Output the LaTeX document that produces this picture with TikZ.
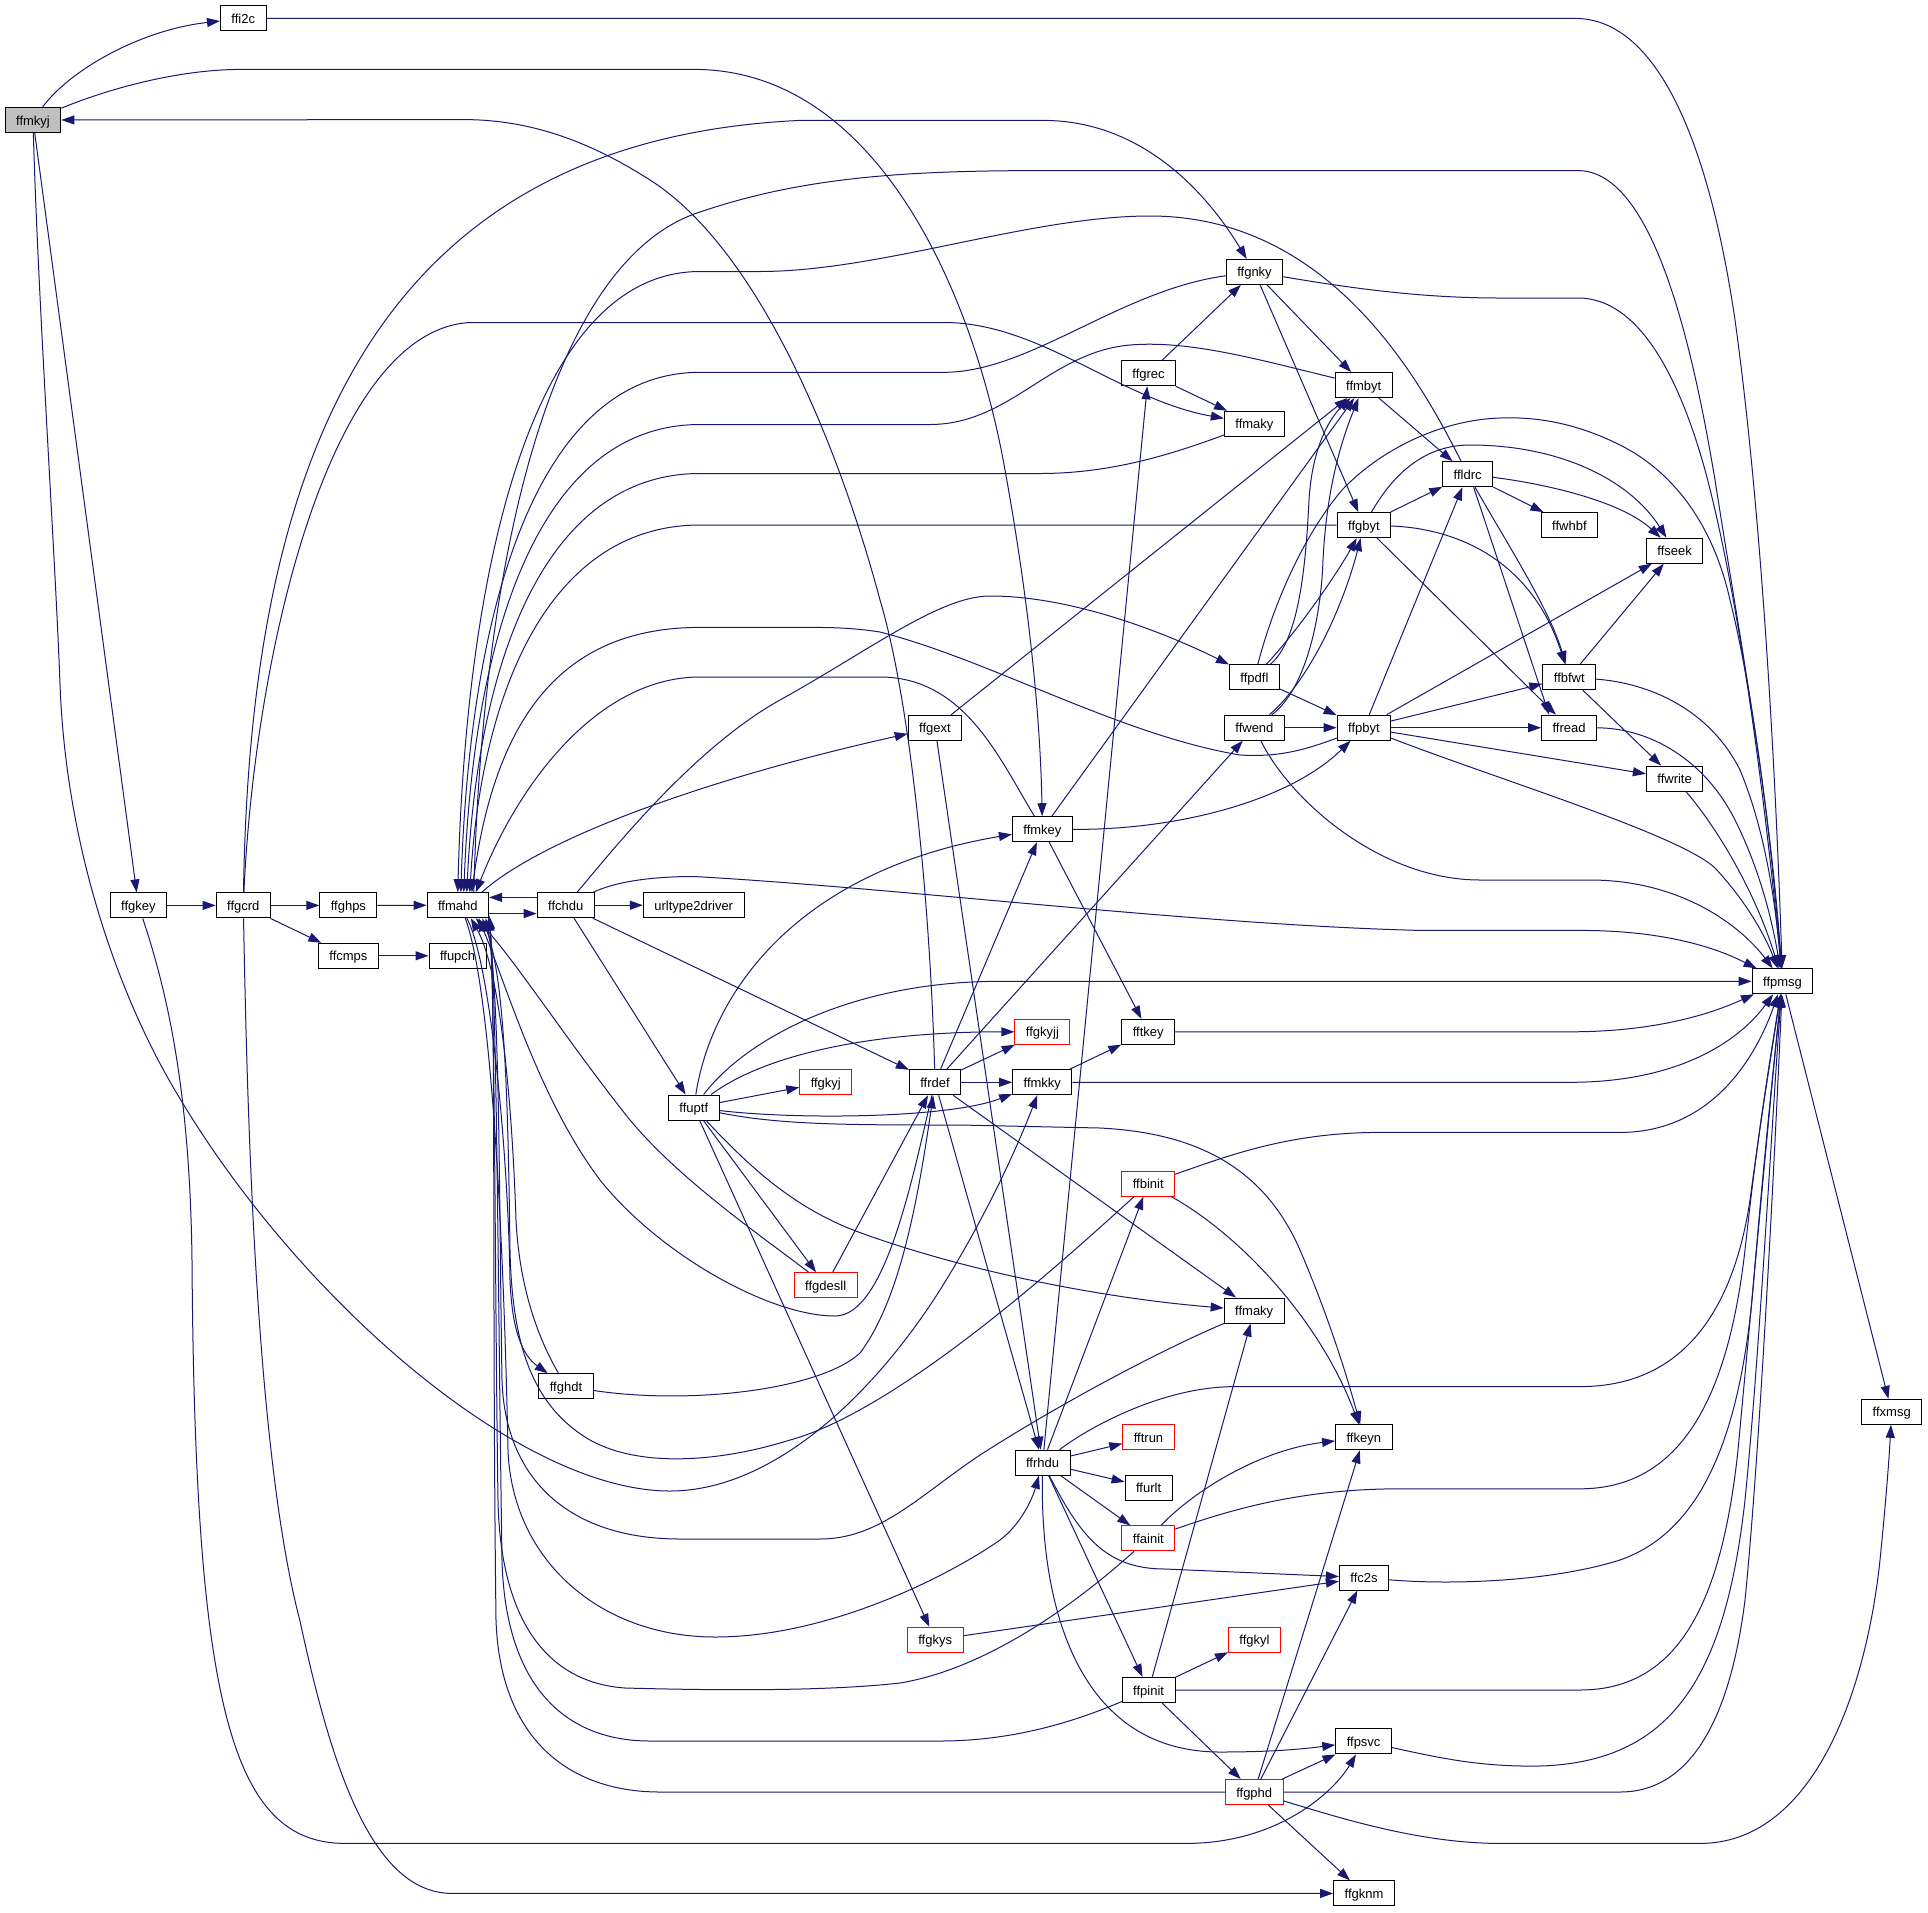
\documentclass[tikz,border=0pt]{standalone}
\usepackage{fontspec}
\setmainfont{Liberation Sans}
\usetikzlibrary{arrows.meta}
\definecolor{edgeblue}{RGB}{25,25,112}
\definecolor{nodegray}{RGB}{191,191,191}
\tikzset{
  nbox/.style={draw=black, line width=1pt, fill=white, minimum height=25pt, inner xsep=11pt, inner ysep=0pt, text height=10pt, text depth=0pt, font=\fontsize{13}{15}\selectfont},
  rbox/.style={nbox, draw=red},
  gbox/.style={nbox, fill=nodegray},
  edg/.style={draw=edgeblue, line width=1pt, -{Triangle[length=13pt,width=9pt]}}
}
\begin{document}
\begin{tikzpicture}[x=1pt,y=-1pt]
\useasboundingbox (0,0) rectangle (1928,1912);
\fill[white] (0,0) rectangle (1928,1912);
% nodes
\node[gbox] (ffmkyj) at (33,120) {ffmkyj};
\node[nbox] (ffi2c) at (243.3,18.4) {ffi2c};
\node[nbox] (ffgkey) at (138.4,905.4) {ffgkey};
\node[nbox] (ffgcrd) at (243.3,905.4) {ffgcrd};
\node[nbox] (ffghps) at (348.4,905.4) {ffghps};
\node[nbox] (ffcmps) at (348.4,955.8) {ffcmps};
\node[nbox] (ffmahd) at (457.8,905.2) {ffmahd};
\node[nbox] (ffupch) at (457.6,955.8) {ffupch};
\node[nbox] (ffchdu) at (565.8,905.2) {ffchdu};
\node[nbox] (ffghdt) at (566,1386.3) {ffghdt};
\node[nbox] (urltype2driver) at (693.7,905.2) {urltype2driver};
\node[nbox] (ffuptf) at (693.8,1107.5) {ffuptf};
\node[rbox] (ffgkyj) at (825.8,1082.3) {ffgkyj};
\node[rbox] (ffgdesll) at (825.7,1285.3) {ffgdesll};
\node[nbox] (ffgext) at (935,727.7) {ffgext};
\node[nbox] (ffrdef) at (935,1082.3) {ffrdef};
\node[rbox] (ffgkys) at (935.2,1639.8) {ffgkys};
\node[nbox] (ffmkey) at (1042.4,829.2) {ffmkey};
\node[rbox] (ffgkyjj) at (1042.4,1031.8) {ffgkyjj};
\node[nbox] (ffmkky) at (1042.3,1082.3) {ffmkky};
\node[nbox] (ffrhdu) at (1042.6,1462.7) {ffrhdu};
\node[nbox] (ffgrec) at (1148.5,373.3) {ffgrec};
\node[nbox] (fftkey) at (1148.2,1031.8) {fftkey};
\node[rbox] (ffbinit) at (1148.2,1183.7) {ffbinit};
\node[rbox] (fftrun) at (1148.5,1437.4) {fftrun};
\node[nbox] (ffurlt) at (1148.6,1487.5) {ffurlt};
\node[rbox] (ffainit) at (1148.4,1538.4) {ffainit};
\node[nbox] (ffpinit) at (1148.6,1690) {ffpinit};
\node[nbox] (ffgnky) at (1254.5,271.9) {ffgnky};
\node[nbox] (ffmakyA) at (1254.4,423.7) {ffmaky};
\node[nbox] (ffpdfl) at (1254.4,677.2) {ffpdfl};
\node[nbox] (ffwend) at (1254.4,727.7) {ffwend};
\node[nbox] (ffmakyB) at (1254.2,1310.5) {ffmaky};
\node[rbox] (ffgkyl) at (1254.5,1639.7) {ffgkyl};
\node[rbox] (ffgphd) at (1254.2,1792) {ffgphd};
\node[nbox] (ffmbyt) at (1363.7,385.1) {ffmbyt};
\node[nbox] (ffgbyt) at (1363.9,525.1) {ffgbyt};
\node[nbox] (ffpbyt) at (1363.9,727.7) {ffpbyt};
\node[nbox] (ffkeyn) at (1363.8,1437.4) {ffkeyn};
\node[nbox] (ffc2s) at (1364,1577.6) {ffc2s};
\node[nbox] (ffpsvc) at (1363.6,1741.4) {ffpsvc};
\node[nbox] (ffgknm) at (1364,1893.4) {ffgknm};
\node[nbox] (ffldrc) at (1467.7,474.3) {ffldrc};
\node[nbox] (ffwhbf) at (1569.4,525.1) {ffwhbf};
\node[nbox] (ffbfwt) at (1569.3,677.2) {ffbfwt};
\node[nbox] (ffread) at (1569.1,727.7) {ffread};
\node[nbox] (ffseek) at (1674.6,550.7) {ffseek};
\node[nbox] (ffwrite) at (1674.6,778.5) {ffwrite};
\node[nbox] (ffpmsg) at (1782.5,981.3) {ffpmsg};
\node[nbox] (ffxmsg) at (1891.7,1411.8) {ffxmsg};

% ---- edges: top area
\draw[edg] (ffmkyj) .. controls (70,70) and (140,30) .. (ffi2c);
\draw[edg] (ffi2c) -- (1575,18.4) .. controls (1660,18.4) and (1710,150) .. (1735,320) .. controls (1760,500) and (1775,750) .. (ffpmsg);
\draw[edg] (ffmkyj) .. controls (110,88) and (180,69.4) .. (241,69.4) -- (694,69.4) .. controls (880,69.4) and (975,300) .. (1005,470) .. controls (1025,580) and (1040,700) .. (ffmkey);
\draw[edg] (ffrdef) .. controls (930,900) and (910,700) .. (880,600) .. controls (840,450) and (760,250) .. (650,180) .. controls (580,135) and (520,119.6) .. (464,119.6) -- (ffmkyj);
\draw[edg] (ffgcrd) .. controls (250,450) and (380,140) .. (800,120.4) -- (1043,120.4) .. controls (1140,120.4) and (1205,190) .. (ffgnky);
\draw[edg] (ffgcrd) .. controls (255,650) and (330,330) .. (470,322.5) -- (944,322.5) .. controls (1040,322.5) and (1120,400) .. (ffmakyA);
\draw[edg] (ffmkyj) -- (ffgkey);
\draw[edg] (ffgkey) -- (ffgcrd);
\draw[edg] (ffgcrd) -- (ffghps);
\draw[edg] (ffgcrd) -- (ffcmps);
\draw[edg] (ffghps) -- (ffmahd);
\draw[edg] (ffcmps) -- (ffupch);
\draw[edg] (ffmahd.-15) -- (ffmahd.-15 -| ffchdu.west);
\draw[edg] (ffchdu.165) -- (ffchdu.165 -| ffmahd.east);
\draw[edg] (ffchdu) -- (urltype2driver);
\draw[edg] (ffgkey) .. controls (170,1000) and (190,1100) .. (192,1260) .. controls (195,1700) and (230,1843.4) .. (345,1843.4) -- (1186,1843.4) .. controls (1280,1843.4) and (1335,1790) .. (ffpsvc);
\draw[edg] (ffgcrd) .. controls (247,1100) and (255,1450) .. (300,1621) .. controls (330,1760) and (370,1893.4) .. (452,1893.4) -- (ffgknm);
\draw[edg] (ffmkyj) .. controls (38,300) and (55,550) .. (60,684) .. controls (66,850) and (120,1000) .. (179,1097) .. controls (300,1300) and (520,1491) .. (670,1491) .. controls (770,1491) and (870,1400) .. (940,1290) .. controls (990,1210) and (1020,1140) .. (ffmkky);

% ---- into ffmahd top
\draw[edg] (ffgnky) .. controls (1120,290) and (1030,372.3) .. (944,372.3) -- (700,372.3) .. controls (540,372.3) and (470,600) .. ([xshift=3pt]ffmahd.north);
\draw[edg] (ffmbyt) .. controls (1260,360) and (1190,340) .. (1130,345) .. controls (1050,352) and (1010,424.5) .. (930,424.5) -- (700,424.5) .. controls (545,424.5) and (474,620) .. ([xshift=6pt]ffmahd.north);
\draw[edg] (ffmakyA) .. controls (1170,455) and (1110,473.5) .. (1040,473.5) -- (700,473.5) .. controls (550,473.5) and (478,650) .. ([xshift=9pt]ffmahd.north);
\draw[edg] (ffgbyt) -- (700,525) .. controls (555,525) and (482,680) .. ([xshift=12pt]ffmahd.north);
\draw[edg] (ffldrc) .. controls (1420,380) and (1330,216) .. (1150,216) .. controls (1030,216) and (880,271.5) .. (760,271.5) -- (700,271.5) .. controls (535,271.5) and (466,560) .. (ffmahd.north);
\draw[edg] ([xshift=16pt]ffmahd.north) .. controls (482,560) and (550,260) .. (700,212) .. controls (800,178) and (900,170.6) .. (1040,170.6) -- (1578,170.6) .. controls (1650,170.6) and (1690,330) .. (1715,480) .. controls (1740,640) and (1770,800) .. (ffpmsg);
\draw[edg] (ffpbyt) .. controls (1300,752) and (1275,757) .. (1240,755) .. controls (1120,735) and (990,660) .. (880,632) .. controls (850,627.4) and (830,627.4) .. (800,627.4) -- (700,627.4) .. controls (560,627.4) and (495,720) .. ([xshift=14pt]ffmahd.north);
\draw[edg] (ffmkey) .. controls (1000,760) and (965,677) .. (880,677) -- (700,677) .. controls (600,677) and (520,780) .. ([xshift=18pt]ffmahd.north);
\draw[edg] ([xshift=24pt]ffmahd.north) .. controls (540,840) and (700,780) .. (ffgext);

% ---- right upper area
\draw[edg] (ffgnky) .. controls (1350,288) and (1420,298) .. (1500,298) -- (1578,298) .. controls (1640,298) and (1680,380) .. (1705,470) .. controls (1740,600) and (1765,800) .. (ffpmsg);
\draw[edg] (ffgnky) -- (ffmbyt);
\draw[edg] (ffgnky) -- (ffgbyt);
\draw[edg] (ffgrec) -- (ffgnky);
\draw[edg] (ffgrec) -- (ffmakyA);
\draw[edg] (ffmbyt) -- (ffldrc);
\draw[edg] (ffgbyt) -- (ffldrc);
\draw[edg] (ffldrc) -- (ffwhbf);
\draw[edg] (ffldrc) .. controls (1540,483) and (1620,500) .. (ffseek);
\draw[edg] (ffgbyt) .. controls (1390,480) and (1420,445) .. (1470,445) .. controls (1560,445) and (1630,480) .. (ffseek);
\draw[edg] (ffldrc) .. controls (1505,540) and (1550,610) .. (ffbfwt);
\draw[edg] ([xshift=6pt]ffldrc.south) -- ([xshift=-20pt]ffread.north);
\draw[edg] (ffgbyt) -- (ffread);
\draw[edg] (ffgbyt) .. controls (1450,528) and (1530,555) .. (ffbfwt);
\draw[edg] (ffpdfl) .. controls (1272,610) and (1300,540) .. (1342,490) .. controls (1380,450) and (1440,420) .. (1500,418) .. controls (1550,416) and (1590,430) .. (1620,445) .. controls (1670,470) and (1712,520) .. (1730,600) .. controls (1755,700) and (1772,850) .. (ffpmsg);
\draw[edg] (ffpdfl) .. controls (1300,640) and (1306,560) .. (1309,500) .. controls (1312,450) and (1328,420) .. (ffmbyt);
\draw[edg] (ffpdfl) .. controls (1300,628) and (1338,572) .. (ffgbyt);
\draw[edg] (ffwend) .. controls (1305,690) and (1321,620) .. (1323,560) .. controls (1327,480) and (1345,432) .. (ffmbyt);
\draw[edg] (ffwend) .. controls (1312,678) and (1345,600) .. (ffgbyt);
\draw[edg] (ffpdfl) -- (ffpbyt);
\draw[edg] (ffwend) -- (ffpbyt);
\draw[edg] (ffwend) .. controls (1290,800) and (1380,880) .. (1480,880) -- (1590,880) .. controls (1680,880) and (1740,925) .. (ffpmsg);
\draw[edg] (ffpbyt) -- (ffldrc);
\draw[edg] (ffpbyt) -- (ffseek);
\draw[edg] (ffpbyt) -- (ffbfwt);
\draw[edg] (ffpbyt) -- (ffread);
\draw[edg] (ffpbyt) -- (ffwrite);
\draw[edg] (ffpbyt) .. controls (1500,780) and (1680,835) .. (1715,868) .. controls (1745,900) and (1765,935) .. (ffpmsg);
\draw[edg] (ffbfwt) -- (ffseek);
\draw[edg] (ffbfwt) -- (ffwrite);
\draw[edg] (ffbfwt) .. controls (1650,683) and (1710,710) .. (1740,770) .. controls (1765,830) and (1775,900) .. (ffpmsg);
\draw[edg] (ffread) .. controls (1650,728) and (1705,760) .. (1735,820) .. controls (1760,870) and (1772,920) .. (ffpmsg);
\draw[edg] (ffwrite) .. controls (1715,825) and (1755,890) .. (ffpmsg);
\draw[edg] (ffgext) -- (ffmbyt);
\draw[edg] (ffmkey) -- (ffmbyt);
\draw[edg] (ffmkey) .. controls (1180,830) and (1290,800) .. (ffpbyt);
\draw[edg] (ffmkey) -- (fftkey);

% ---- ffchdu
\draw[edg] (ffchdu) .. controls (605,860) and (690,750) .. (780,700) .. controls (870,650) and (940,596) .. (990,596) .. controls (1080,596) and (1180,640) .. (ffpdfl);
\draw[edg] (ffchdu) .. controls (615,882) and (650,876.5) .. (694,876.5) .. controls (900,888) and (1200,925) .. (1420,930.4) -- (1580,930.4) .. controls (1680,930.4) and (1730,955) .. (ffpmsg);
\draw[edg] (ffchdu) -- (ffrdef);
\draw[edg] (ffchdu) -- (ffuptf);

% ---- ffmahd bottom bundle
\draw[edg] ([xshift=9pt]ffmahd.south) .. controls (490,960) and (508,1150) .. (510,1280) .. controls (512,1330) and (522,1355) .. (ffghdt);
\draw[edg] (ffghdt) .. controls (545,1350) and (520,1300) .. (516,1220) .. controls (512,1100) and (500,970) .. (ffmahd.-45);
\draw[edg] (ffgdesll) .. controls (760,1235) and (680,1180) .. (630,1120) .. controls (570,1045) and (515,960) .. (ffmahd.-36);
\draw[edg] (ffrdef) .. controls (912,1180) and (885,1316) .. (835,1316) .. controls (770,1316) and (660,1255) .. (600,1180) .. controls (540,1100) and (508,990) .. (ffmahd.-32);
\draw[edg] (ffbinit) .. controls (1070,1255) and (900,1410) .. (790,1440) .. controls (720,1462) and (640,1468) .. (590,1440) .. controls (530,1405) and (512,1340) .. (510,1250) .. controls (508,1100) and (505,980) .. (ffmahd.-28);
\draw[edg] (ffmakyB) .. controls (1150,1355) and (1050,1410) .. (980,1455) .. controls (920,1495) and (880,1539) .. (820,1539) -- (680,1539) .. controls (570,1539) and (505,1480) .. (502,1380) .. controls (499,1200) and (500,990) .. (ffmahd.-25);
\draw[edg] (ffmahd.-60) .. controls (495,1000) and (505,1300) .. (508,1450) .. controls (512,1560) and (600,1637) .. (715,1637) .. controls (830,1637) and (950,1575) .. (1000,1540) .. controls (1020,1525) and (1032,1500) .. (ffrhdu);
\draw[edg] (ffainit) .. controls (1080,1600) and (990,1668) .. (900,1683) .. controls (820,1692) and (700,1690) .. (625,1688) .. controls (540,1682) and (500,1610) .. (498,1500) .. controls (495,1300) and (495,1000) .. (ffmahd.-22);
\draw[edg] (ffpinit) .. controls (1060,1728) and (1000,1741) .. (940,1741) -- (650,1741) .. controls (560,1741) and (505,1680) .. (502,1560) .. controls (498,1300) and (497,1000) .. (ffmahd.-20);
\draw[edg] (ffgphd) -- (660,1792) .. controls (570,1792) and (500,1740) .. (496,1620) .. controls (492,1300) and (496,1000) .. (ffmahd.-18);

% ---- ffuptf
\draw[edg] (ffuptf) .. controls (712,990) and (800,870) .. (ffmkey);
\draw[edg] (ffuptf) .. controls (745,1040) and (850,981.3) .. (1000,981.3) -- (ffpmsg);
\draw[edg] (ffuptf) .. controls (760,1058) and (860,1031.8) .. (ffgkyjj);
\draw[edg] (ffuptf) -- (ffgkyj);
\draw[edg] (ffuptf) .. controls (800,1120) and (950,1118) .. (ffmkky);
\draw[edg] (ffuptf) .. controls (780,1125) and (850,1125) .. (960,1125) -- (1100,1128) .. controls (1200,1133) and (1265,1170) .. (1300,1250) .. controls (1330,1320) and (1348,1380) .. (ffkeyn);
\draw[edg] (ffuptf) .. controls (748,1165) and (790,1205) .. (853,1230) .. controls (960,1270) and (1100,1298) .. (ffmakyB);
\draw[edg] (ffuptf) -- (ffgdesll);
\draw[edg] (ffuptf) -- (ffgkys);

% ---- ffrdef
\draw[edg] (ffrdef) -- (ffgkyjj);
\draw[edg] (ffrdef) -- (ffmkky);
\draw[edg] (ffrdef) -- (ffmkey);
\draw[edg] (ffrdef) -- (ffwend);
\draw[edg] (ffrdef) -- (ffmakyB);
\draw[edg] (ffrdef) -- (ffrhdu);
\draw[edg] (ffgdesll) -- (ffrdef);
\draw[edg] (ffghdt) .. controls (690,1405) and (820,1390) .. (860,1353) .. controls (900,1300) and (918,1200) .. (ffrdef);
\draw[edg] (ffgext) -- (ffrhdu);

% ---- middle right
\draw[edg] (ffmkky) -- (fftkey);
\draw[edg] (fftkey) -- (1570,1031.8) .. controls (1660,1031.8) and (1715,1012) .. (ffpmsg);
\draw[edg] (ffmkky) -- (1570,1082.3) .. controls (1680,1082.3) and (1740,1040) .. (ffpmsg);
\draw[edg] (ffbinit) .. controls (1230,1155) and (1290,1132.4) .. (1380,1132.4) -- (1620,1132.4) .. controls (1710,1132.4) and (1755,1060) .. (ffpmsg);
\draw[edg] (ffbinit) .. controls (1240,1235) and (1320,1320) .. (ffkeyn);

% ---- ffrhdu
\draw[edg] (ffrhdu) -- (ffgrec);
\draw[edg] (ffrhdu) -- (ffbinit);
\draw[edg] (ffrhdu) -- (fftrun);
\draw[edg] (ffrhdu) -- (ffurlt);
\draw[edg] (ffrhdu) -- (ffainit);
\draw[edg] (ffrhdu) -- (ffpinit);
\draw[edg] (ffrhdu) .. controls (1080,1535) and (1105,1569) .. (1165,1569) -- (ffc2s);
\draw[edg] (ffrhdu) .. controls (1040,1620) and (1085,1752) .. (1220,1752) .. controls (1280,1752) and (1310,1748) .. (ffpsvc);
\draw[edg] (ffrhdu) .. controls (1085,1430) and (1160,1386.6) .. (1235,1386.6) -- (1580,1386.6) .. controls (1690,1386.6) and (1735,1300) .. (1750,1200) .. controls (1762,1110) and (1772,1050) .. (ffpmsg);

% ---- ffainit, ffpinit, ffgphd
\draw[edg] (ffainit) .. controls (1195,1490) and (1260,1450) .. (ffkeyn);
\draw[edg] (ffainit) .. controls (1230,1510) and (1300,1488.8) .. (1400,1488.8) -- (1580,1488.8) .. controls (1690,1488.8) and (1730,1380) .. (1745,1250) .. controls (1758,1130) and (1770,1060) .. (ffpmsg);
\draw[edg] (ffpinit) -- (ffmakyB);
\draw[edg] (ffpinit) -- (ffgkyl);
\draw[edg] (ffpinit) -- (ffgphd);
\draw[edg] (ffpinit) -- (1580,1690) .. controls (1680,1690) and (1722,1600) .. (1738,1450) .. controls (1752,1300) and (1770,1100) .. (ffpmsg);
\draw[edg] (ffgphd) -- (ffkeyn);
\draw[edg] (ffgphd) -- (ffc2s);
\draw[edg] (ffgphd) -- (ffpsvc);
\draw[edg] (ffgphd) -- (ffgknm);
\draw[edg] (ffgphd) -- (1620,1792) .. controls (1690,1792) and (1730,1720) .. (1745,1600) .. controls (1760,1450) and (1775,1150) .. (ffpmsg);
\draw[edg] (ffgphd) .. controls (1340,1818) and (1420,1843.4) .. (1500,1843.4) -- (1700,1843.4) .. controls (1810,1843.4) and (1865,1700) .. (1880,1560) .. controls (1886,1500) and (1889,1460) .. (ffxmsg);
\draw[edg] (ffgkys) -- (ffc2s);
\draw[edg] (ffc2s) .. controls (1450,1585) and (1550,1582) .. (1620,1560) .. controls (1700,1532) and (1738,1440) .. (1752,1300) .. controls (1762,1180) and (1772,1080) .. (ffpmsg);
\draw[edg] (ffpsvc) .. controls (1440,1758) and (1480,1767) .. (1540,1766) .. controls (1670,1762) and (1725,1680) .. (1745,1500) .. controls (1760,1350) and (1773,1100) .. (ffpmsg);
\draw[edg] (ffpmsg) -- (ffxmsg);
\end{tikzpicture}
\end{document}
